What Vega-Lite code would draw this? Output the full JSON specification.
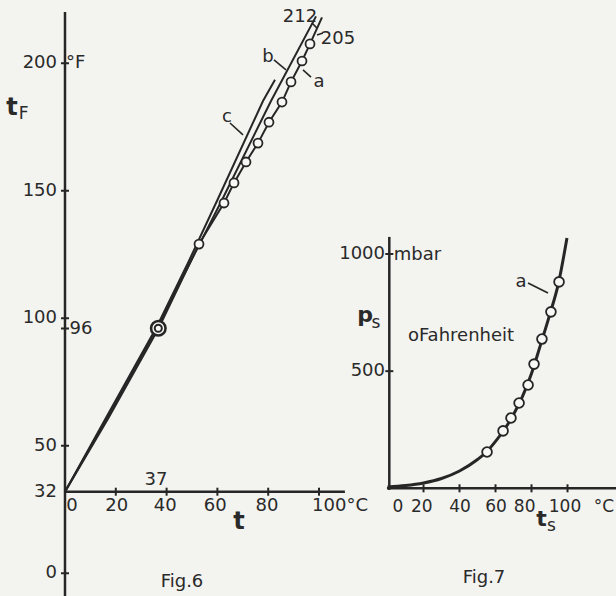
{
  "$schema": "https://vega.github.io/schema/vega-lite/v6.json",
  "width": 616,
  "height": 596,
  "autosize": {"type": "none"},
  "padding": 0,
  "background": "#f3f3ef",
  "config": {
    "view": {"stroke": null},
    "text": {"font": "DejaVu Sans", "color": "#2a2a2a", "fontSize": 18, "baseline": "middle", "align": "center"}
  },
  "datasets": {
    "f6axes": [
      {"t": 0, "tF": -12, "t2": 0, "tF2": 220.1},
      {"t": 0, "tF": 32, "t2": 110.2, "tF2": 32}
    ],
    "f6tickv": [
      {"t": 20, "tF": 32}, {"t": 40, "tF": 32}, {"t": 60, "tF": 32}, {"t": 80, "tF": 32}, {"t": 100, "tF": 32}
    ],
    "f6tickh": [
      {"t": 0, "tF": 0}, {"t": 0, "tF": 50}, {"t": 0, "tF": 96}, {"t": 0, "tF": 100}, {"t": 0, "tF": 150}, {"t": 0, "tF": 200}
    ],
    "f6ylabels": [
      {"t": -3.15, "tF": 0, "label": "0"},
      {"t": -3.15, "tF": 32, "label": "32"},
      {"t": -3.15, "tF": 50, "label": "50"},
      {"t": -3.15, "tF": 100, "label": "100"},
      {"t": -3.15, "tF": 150, "label": "150"},
      {"t": -3.15, "tF": 200, "label": "200"}
    ],
    "f6xlabels": [
      {"t": 2.76, "tF": 26.4, "label": "0"},
      {"t": 20.35, "tF": 26.4, "label": "20"},
      {"t": 39.49, "tF": 26.4, "label": "40"},
      {"t": 59.17, "tF": 26.4, "label": "60"},
      {"t": 79.53, "tF": 26.4, "label": "80"},
      {"t": 108.3, "tF": 26.4, "label": "100°C"}
    ],
    "f6lines": [
      {"series": "b", "o": 0, "t": 0, "tF": 32},
      {"series": "b", "o": 1, "t": 16.54, "tF": 60.9},
      {"series": "b", "o": 2, "t": 36.61, "tF": 97.0},
      {"series": "b", "o": 3, "t": 61.81, "tF": 146.4},
      {"series": "b", "o": 4, "t": 81.1, "tF": 185.2},
      {"series": "b", "o": 5, "t": 98.82, "tF": 218.4},
      {"series": "a", "o": 0, "t": 0, "tF": 32},
      {"series": "a", "o": 1, "t": 17.1, "tF": 60.9},
      {"series": "a", "o": 2, "t": 36.9, "tF": 96.2},
      {"series": "a", "o": 3, "t": 52.76, "tF": 129.1},
      {"series": "a", "o": 4, "t": 62.6, "tF": 145.2},
      {"series": "a", "o": 5, "t": 66.54, "tF": 153.1},
      {"series": "a", "o": 6, "t": 71.26, "tF": 161.3},
      {"series": "a", "o": 7, "t": 75.98, "tF": 168.7},
      {"series": "a", "o": 8, "t": 80.31, "tF": 176.9},
      {"series": "a", "o": 9, "t": 85.43, "tF": 184.8},
      {"series": "a", "o": 10, "t": 88.98, "tF": 192.7},
      {"series": "a", "o": 11, "t": 93.31, "tF": 200.9},
      {"series": "a", "o": 12, "t": 96.46, "tF": 207.6},
      {"series": "a", "o": 13, "t": 101.18, "tF": 218.0},
      {"series": "c", "o": 0, "t": 0, "tF": 32},
      {"series": "c", "o": 1, "t": 16.1, "tF": 60.9},
      {"series": "c", "o": 2, "t": 36.3, "tF": 97.0},
      {"series": "c", "o": 3, "t": 48.6, "tF": 122.1},
      {"series": "c", "o": 4, "t": 60.0, "tF": 146.4},
      {"series": "c", "o": 5, "t": 77.95, "tF": 185.2},
      {"series": "c", "o": 6, "t": 82.68, "tF": 193.5}
    ],
    "f6pts": [
      {"t": 52.76, "tF": 129.1}, {"t": 62.6, "tF": 145.2}, {"t": 66.54, "tF": 153.1},
      {"t": 71.26, "tF": 161.3}, {"t": 75.98, "tF": 168.7}, {"t": 80.31, "tF": 176.9},
      {"t": 85.43, "tF": 184.8}, {"t": 88.98, "tF": 192.7}, {"t": 93.31, "tF": 200.9},
      {"t": 96.46, "tF": 207.6}
    ],
    "f6big": [{"t": 36.73, "tF": 96.1}],
    "f6leaders": [
      {"t": 97.24, "tF": 215.8, "t2": 99.21, "tF2": 213.8},
      {"t": 99.21, "tF": 211.1, "t2": 101.57, "tF2": 211.9},
      {"t": 82.28, "tF": 201.3, "t2": 87.01, "tF2": 197.4},
      {"t": 93.7, "tF": 197.4, "t2": 96.85, "tF2": 194.6},
      {"t": 64.96, "tF": 176.6, "t2": 70.08, "tF2": 171.9}
    ],
    "f6text": [
      {"t": 92.52, "tF": 218.2, "label": "212"},
      {"t": 107.48, "tF": 209.5, "label": "205"},
      {"t": 79.92, "tF": 202.6, "label": "b"},
      {"t": 100.0, "tF": 192.8, "label": "a"},
      {"t": 63.78, "tF": 179.1, "label": "c"},
      {"t": 35.83, "tF": 36.6, "label": "37"},
      {"t": 46.06, "tF": -3.4, "label": "Fig.6"},
      {"t": 4.2, "tF": 200, "label": "°F"},
      {"t": 6.3, "tF": 95.8, "label": "96"}
    ],
    "f6title": [
      {"t": 68.5, "tF": 20.0, "label": "t"},
      {"t": -20.9, "tF": 182.4, "label": "t"}
    ],
    "f6sub": [{"t": -16.3, "tF": 180.0, "label": "F"}],
    "f7axes": [
      {"ts": 1, "ps": -7, "ts2": 1, "ps2": 1073},
      {"ts": -0.3, "ps": 0, "ts2": 127, "ps2": 0}
    ],
    "f7tickv": [
      {"ts": 20, "ps": 0}, {"ts": 40, "ps": 0}, {"ts": 60, "ps": 0}, {"ts": 80, "ps": 0}, {"ts": 100, "ps": 0}
    ],
    "f7tickh": [{"ts": 1, "ps": 500}, {"ts": 1, "ps": 1000}],
    "f7ylabels": [
      {"ts": -1.39, "ps": 500, "label": "500"},
      {"ts": -1.39, "ps": 1000, "label": "1000"}
    ],
    "f7xlabels": [
      {"ts": 5.83, "ps": -81.9, "label": "0"},
      {"ts": 19.0, "ps": -81.9, "label": "20"},
      {"ts": 40.28, "ps": -81.9, "label": "40"},
      {"ts": 60.28, "ps": -81.9, "label": "60"},
      {"ts": 76.2, "ps": -81.9, "label": "80"},
      {"ts": 98.61, "ps": -81.9, "label": "100"},
      {"ts": 120.28, "ps": -81.9, "label": "°C"}
    ],
    "f7curve": [
      {"ts": 0, "ps": 6}, {"ts": 10, "ps": 12}, {"ts": 20, "ps": 23}, {"ts": 30, "ps": 42},
      {"ts": 40, "ps": 74}, {"ts": 50, "ps": 123}, {"ts": 55, "ps": 155}, {"ts": 60, "ps": 200},
      {"ts": 65, "ps": 252}, {"ts": 70, "ps": 315}, {"ts": 75, "ps": 392}, {"ts": 80, "ps": 490},
      {"ts": 85, "ps": 612}, {"ts": 90, "ps": 738}, {"ts": 95, "ps": 876}, {"ts": 99.7, "ps": 1068}
    ],
    "f7pts": [
      {"ts": 55.3, "ps": 155}, {"ts": 64.2, "ps": 245}, {"ts": 68.6, "ps": 300},
      {"ts": 73.1, "ps": 364}, {"ts": 78.1, "ps": 441}, {"ts": 81.4, "ps": 530},
      {"ts": 85.8, "ps": 637}, {"ts": 90.8, "ps": 753}, {"ts": 95.3, "ps": 881}
    ],
    "f7leaders": [{"ts": 78.06, "ps": 876.2, "ts2": 89.17, "ps2": 833.5}],
    "f7text": [
      {"ts": 16.67, "ps": 993.6, "label": "mbar"},
      {"ts": 40.83, "ps": 650.0, "label": "oFahrenheit"},
      {"ts": 74.17, "ps": 881.0, "label": "a"},
      {"ts": 53.61, "ps": -382.8, "label": "Fig.7"}
    ],
    "f7title": [
      {"ts": -12.5, "ps": 738, "label": "p"},
      {"ts": 85.6, "ps": -132, "label": "t"}
    ],
    "f7sub": [
      {"ts": -6.39, "ps": 705, "label": "s"},
      {"ts": 91.1, "ps": -162, "label": "s"}
    ]
  },
  "layer": [
    {
      "layer": [
        {
          "data": {"name": "f6axes"},
          "mark": {"type": "rule", "strokeWidth": 2.5, "color": "#262626"},
          "encoding": {
            "x": {"field": "t", "type": "quantitative", "scale": {"domain": [-25.59, 216.93], "nice": false, "zero": false}, "axis": null},
            "y": {"field": "tF", "type": "quantitative", "scale": {"domain": [-8.9, 224.82], "nice": false, "zero": false}, "axis": null},
            "x2": {"field": "t2"},
            "y2": {"field": "tF2"}
          }
        },
        {
          "data": {"name": "f6tickv"},
          "mark": {"type": "tick", "orient": "vertical", "size": 8, "thickness": 2, "color": "#262626", "opacity": 1},
          "encoding": {
            "x": {"field": "t", "type": "quantitative", "axis": null},
            "y": {"field": "tF", "type": "quantitative", "axis": null}
          }
        },
        {
          "data": {"name": "f6tickh"},
          "mark": {"type": "tick", "orient": "horizontal", "size": 8, "thickness": 2, "color": "#262626", "opacity": 1},
          "encoding": {
            "x": {"field": "t", "type": "quantitative", "axis": null},
            "y": {"field": "tF", "type": "quantitative", "axis": null}
          }
        },
        {
          "data": {"name": "f6ylabels"},
          "mark": {"type": "text", "fontSize": 18, "align": "right"},
          "encoding": {
            "x": {"field": "t", "type": "quantitative", "axis": null},
            "y": {"field": "tF", "type": "quantitative", "axis": null},
            "text": {"field": "label"}
          }
        },
        {
          "data": {"name": "f6xlabels"},
          "mark": {"type": "text", "fontSize": 18},
          "encoding": {
            "x": {"field": "t", "type": "quantitative", "axis": null},
            "y": {"field": "tF", "type": "quantitative", "axis": null},
            "text": {"field": "label"}
          }
        },
        {
          "data": {"name": "f6lines"},
          "mark": {"type": "line", "strokeWidth": 2, "color": "#262626"},
          "encoding": {
            "x": {"field": "t", "type": "quantitative", "axis": null},
            "y": {"field": "tF", "type": "quantitative", "axis": null},
            "detail": {"field": "series"},
            "order": {"field": "o", "type": "quantitative"}
          }
        },
        {
          "data": {"name": "f6leaders"},
          "mark": {"type": "rule", "strokeWidth": 1.6, "color": "#262626"},
          "encoding": {
            "x": {"field": "t", "type": "quantitative", "axis": null},
            "y": {"field": "tF", "type": "quantitative", "axis": null},
            "x2": {"field": "t2"},
            "y2": {"field": "tF2"}
          }
        },
        {
          "data": {"name": "f6pts"},
          "mark": {"type": "point", "shape": "circle", "filled": true, "fill": "#f8f8f5", "stroke": "#262626", "strokeWidth": 1.8, "size": 80, "opacity": 1},
          "encoding": {
            "x": {"field": "t", "type": "quantitative", "axis": null},
            "y": {"field": "tF", "type": "quantitative", "axis": null}
          }
        },
        {
          "data": {"name": "f6big"},
          "mark": {"type": "point", "shape": "circle", "filled": true, "fill": "#f8f8f5", "stroke": "#262626", "strokeWidth": 2.6, "size": 210, "opacity": 1},
          "encoding": {
            "x": {"field": "t", "type": "quantitative", "axis": null},
            "y": {"field": "tF", "type": "quantitative", "axis": null}
          }
        },
        {
          "data": {"name": "f6big"},
          "mark": {"type": "point", "shape": "circle", "filled": true, "fill": "#f8f8f5", "stroke": "#262626", "strokeWidth": 2, "size": 50, "opacity": 1},
          "encoding": {
            "x": {"field": "t", "type": "quantitative", "axis": null},
            "y": {"field": "tF", "type": "quantitative", "axis": null}
          }
        },
        {
          "data": {"name": "f6text"},
          "mark": {"type": "text", "fontSize": 18},
          "encoding": {
            "x": {"field": "t", "type": "quantitative", "axis": null},
            "y": {"field": "tF", "type": "quantitative", "axis": null},
            "text": {"field": "label"}
          }
        },
        {
          "data": {"name": "f6title"},
          "mark": {"type": "text", "fontSize": 24, "fontWeight": "bold"},
          "encoding": {
            "x": {"field": "t", "type": "quantitative", "axis": null},
            "y": {"field": "tF", "type": "quantitative", "axis": null},
            "text": {"field": "label"}
          }
        },
        {
          "data": {"name": "f6sub"},
          "mark": {"type": "text", "fontSize": 17},
          "encoding": {
            "x": {"field": "t", "type": "quantitative", "axis": null},
            "y": {"field": "tF", "type": "quantitative", "axis": null},
            "text": {"field": "label"}
          }
        }
      ]
    },
    {
      "layer": [
        {
          "data": {"name": "f7axes"},
          "mark": {"type": "rule", "strokeWidth": 2.5, "color": "#262626"},
          "encoding": {
            "x": {"field": "ts", "type": "quantitative", "scale": {"domain": [-215.28, 126.94], "nice": false, "zero": false}, "axis": null},
            "y": {"field": "ps", "type": "quantitative", "scale": {"domain": [-459.67, 2084.08], "nice": false, "zero": false}, "axis": null},
            "x2": {"field": "ts2"},
            "y2": {"field": "ps2"}
          }
        },
        {
          "data": {"name": "f7tickv"},
          "mark": {"type": "tick", "orient": "vertical", "size": 8, "thickness": 2, "color": "#262626", "opacity": 1},
          "encoding": {
            "x": {"field": "ts", "type": "quantitative", "axis": null},
            "y": {"field": "ps", "type": "quantitative", "axis": null}
          }
        },
        {
          "data": {"name": "f7tickh"},
          "mark": {"type": "tick", "orient": "horizontal", "size": 8, "thickness": 2, "color": "#262626", "opacity": 1},
          "encoding": {
            "x": {"field": "ts", "type": "quantitative", "axis": null},
            "y": {"field": "ps", "type": "quantitative", "axis": null}
          }
        },
        {
          "data": {"name": "f7ylabels"},
          "mark": {"type": "text", "fontSize": 18, "align": "right"},
          "encoding": {
            "x": {"field": "ts", "type": "quantitative", "axis": null},
            "y": {"field": "ps", "type": "quantitative", "axis": null},
            "text": {"field": "label"}
          }
        },
        {
          "data": {"name": "f7xlabels"},
          "mark": {"type": "text", "fontSize": 17},
          "encoding": {
            "x": {"field": "ts", "type": "quantitative", "axis": null},
            "y": {"field": "ps", "type": "quantitative", "axis": null},
            "text": {"field": "label"}
          }
        },
        {
          "data": {"name": "f7curve"},
          "mark": {"type": "line", "strokeWidth": 3, "color": "#262626", "interpolate": "monotone"},
          "encoding": {
            "x": {"field": "ts", "type": "quantitative", "axis": null},
            "y": {"field": "ps", "type": "quantitative", "axis": null}
          }
        },
        {
          "data": {"name": "f7leaders"},
          "mark": {"type": "rule", "strokeWidth": 1.6, "color": "#262626"},
          "encoding": {
            "x": {"field": "ts", "type": "quantitative", "axis": null},
            "y": {"field": "ps", "type": "quantitative", "axis": null},
            "x2": {"field": "ts2"},
            "y2": {"field": "ps2"}
          }
        },
        {
          "data": {"name": "f7pts"},
          "mark": {"type": "point", "shape": "circle", "filled": true, "fill": "#f8f8f5", "stroke": "#262626", "strokeWidth": 1.8, "size": 95, "opacity": 1},
          "encoding": {
            "x": {"field": "ts", "type": "quantitative", "axis": null},
            "y": {"field": "ps", "type": "quantitative", "axis": null}
          }
        },
        {
          "data": {"name": "f7text"},
          "mark": {"type": "text", "fontSize": 18},
          "encoding": {
            "x": {"field": "ts", "type": "quantitative", "axis": null},
            "y": {"field": "ps", "type": "quantitative", "axis": null},
            "text": {"field": "label"}
          }
        },
        {
          "data": {"name": "f7title"},
          "mark": {"type": "text", "fontSize": 22, "fontWeight": "bold"},
          "encoding": {
            "x": {"field": "ts", "type": "quantitative", "axis": null},
            "y": {"field": "ps", "type": "quantitative", "axis": null},
            "text": {"field": "label"}
          }
        },
        {
          "data": {"name": "f7sub"},
          "mark": {"type": "text", "fontSize": 17},
          "encoding": {
            "x": {"field": "ts", "type": "quantitative", "axis": null},
            "y": {"field": "ps", "type": "quantitative", "axis": null},
            "text": {"field": "label"}
          }
        }
      ]
    }
  ],
  "resolve": {
    "scale": {"x": "independent", "y": "independent"}
  }
}
